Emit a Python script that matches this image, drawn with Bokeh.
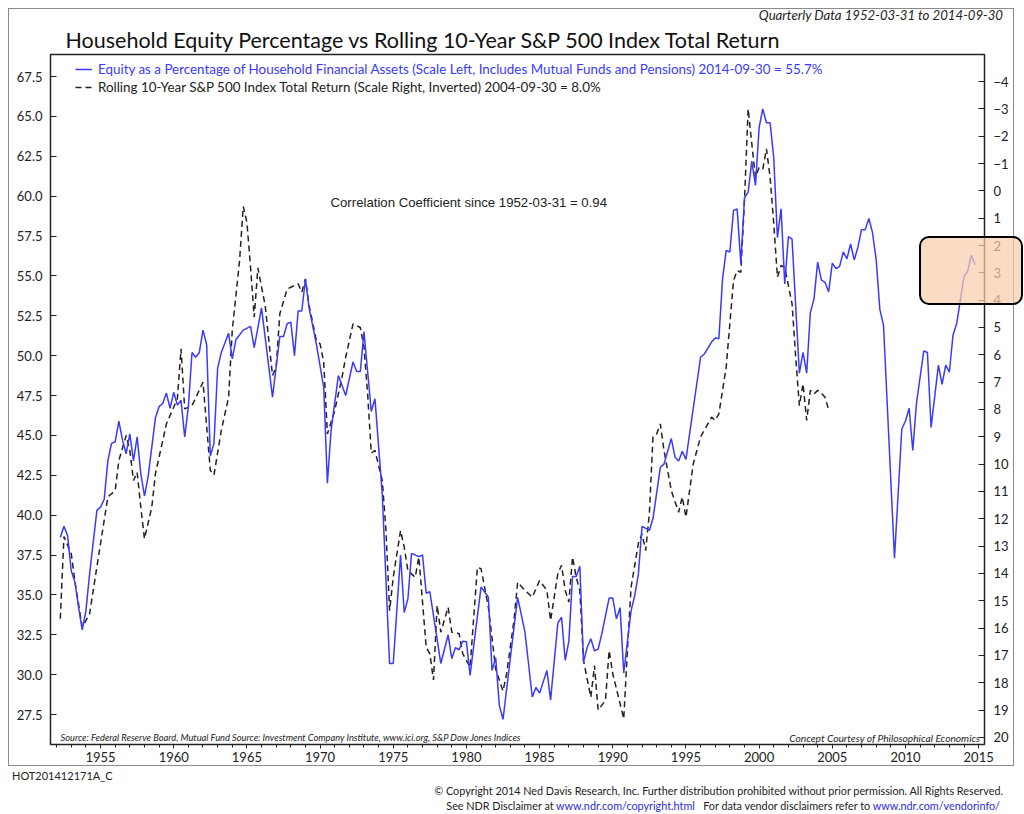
from bokeh.plotting import figure
from bokeh.layouts import column
from bokeh.models import (Range1d, LinearAxis, SingleIntervalTicker, NumeralTickFormatter,
                          Label, Legend, LegendItem, ColumnDataSource, Title, Div)
from bokeh.embed import file_html
from bokeh.resources import INLINE

# ---------------- data ----------------
equity_dates = [
    1952.25, 1952.5, 1952.75, 1953.0, 1953.25, 1953.5, 1953.75, 1954.0, 1954.25, 1954.75,
    1955.0, 1955.25, 1955.5, 1955.75, 1956.0, 1956.25, 1956.5, 1956.75, 1957.0, 1957.25,
    1957.5, 1957.75, 1958.0, 1958.25, 1958.75, 1959.0, 1959.25, 1959.5, 1959.75, 1960.0,
    1960.25, 1960.5, 1960.75, 1961.0, 1961.25, 1961.5, 1961.75, 1962.0, 1962.25, 1962.5,
    1962.75, 1963.0, 1963.25, 1963.75, 1964.0, 1964.25, 1964.75, 1965.25, 1965.5, 1966.0,
    1966.75, 1967.25, 1967.5, 1967.75, 1968.0, 1968.25, 1968.5, 1968.75, 1969.0, 1969.25,
    1969.75, 1970.25, 1970.5, 1970.75, 1971.25, 1971.75, 1972.25, 1972.5, 1972.75, 1973.0,
    1973.5, 1973.75, 1974.25, 1974.75, 1975.0, 1975.5, 1975.75, 1976.0, 1976.25, 1976.75,
    1977.0, 1977.25, 1977.5, 1978.25, 1978.75, 1979.0, 1979.25, 1979.5, 1979.75, 1980.0,
    1980.25, 1981.0, 1981.5, 1981.75, 1982.0, 1982.25, 1982.5, 1983.5, 1984.0, 1984.5,
    1984.75, 1985.0, 1985.5, 1985.75, 1986.25, 1986.5, 1986.75, 1987.0, 1987.25, 1987.5,
    1987.75, 1988.0, 1988.25, 1988.5, 1988.75, 1989.0, 1989.25, 1989.75, 1990.0, 1990.25,
    1990.5, 1990.75, 1991.25, 1991.5, 1991.75, 1992.0, 1992.5, 1992.75, 1993.25, 1993.5,
    1994.0, 1994.25, 1994.5, 1994.75, 1995.0, 1996.0, 1996.25, 1996.75, 1997.0, 1997.25,
    1997.5, 1997.75, 1998.0, 1998.25, 1998.5, 1998.75, 1999.0, 1999.25, 1999.5, 1999.75,
    2000.0, 2000.25, 2000.5, 2000.75, 2001.0, 2001.25, 2001.5, 2001.75, 2002.0, 2002.25,
    2002.75, 2003.0, 2003.25, 2003.5, 2003.75, 2004.0, 2004.25, 2004.5, 2004.75, 2005.0,
    2005.25, 2005.5, 2005.75, 2006.0, 2006.25, 2006.5, 2006.75, 2007.0, 2007.25, 2007.5,
    2007.75, 2008.0, 2008.25, 2008.5, 2009.25, 2009.75, 2010.0, 2010.25, 2010.5, 2010.75,
    2011.25, 2011.5, 2011.75, 2012.25, 2012.5, 2012.75, 2013.0, 2013.25, 2013.5, 2014.0,
    2014.25, 2014.5, 2014.75,
]
equity_pct = [
    38.6, 39.3, 38.7, 36.5, 35.8, 34.2, 32.8, 34.0, 36.3, 40.3,
    40.5, 41.0, 43.4, 44.5, 44.6, 45.9, 44.7, 43.85, 45.1, 43.4,
    44.9, 42.6, 41.2, 42.4, 46.1, 46.8, 47.0, 47.65, 46.7, 47.7,
    46.9, 47.2, 44.9, 46.8, 50.2, 49.9, 50.2, 51.6, 50.7, 43.7,
    44.5, 49.2, 50.2, 51.4, 49.8, 51.0, 51.6, 51.83, 50.5, 53.0,
    47.4, 51.2, 51.2, 52.0, 52.1, 50.0, 52.8, 52.8, 54.8, 53.0,
    50.7, 48.0, 42.0, 45.3, 48.75, 47.5, 49.6, 49.0, 49.0, 51.5,
    46.5, 47.3, 41.3, 30.7, 30.7, 37.5, 33.9, 34.75, 37.6, 37.4,
    37.5, 35.1, 35.2, 30.7, 32.5, 31.0, 31.7, 31.56, 32.1, 32.06,
    29.95, 35.5, 34.85, 30.26, 31.06, 28.06, 27.2, 34.85, 32.66, 28.6,
    29.2, 28.84, 30.26, 28.4, 33.25, 33.6, 30.9, 32.1, 36.15, 36.15,
    36.8, 30.8, 31.7, 32.25, 31.5, 31.6, 32.56, 34.8, 34.8, 33.5,
    34.2, 30.1, 34.0, 34.96, 36.3, 39.3, 39.04, 39.8, 43.0, 43.2,
    44.8, 43.65, 43.4, 44.0, 43.5, 49.9, 50.1, 50.85, 51.1, 51.06,
    54.8, 56.6, 56.5, 59.1, 59.2, 55.76, 59.9, 60.25, 62.2, 60.67,
    64.3, 65.47, 64.6, 64.6, 62.4, 57.4, 59.2, 54.5, 57.47, 57.3,
    48.9, 50.2, 48.9, 52.7, 53.56, 55.86, 54.75, 54.6, 54.0, 55.8,
    55.45, 55.6, 56.5, 56.07, 57.0, 56.0, 56.8, 57.9, 57.9, 58.6,
    57.7, 56.0, 52.9, 51.9, 37.3, 45.4, 45.9, 46.7, 44.05, 47.0,
    50.3, 50.2, 45.5, 49.4, 48.2, 49.4, 48.96, 51.3, 52.0, 54.96,
    55.3, 56.3, 55.7,
]

return_dates = [
    1952.25, 1952.5, 1953.0, 1953.25, 1953.75, 1954.25, 1954.5, 1955.0, 1955.5, 1956.0,
    1956.25, 1956.75, 1957.0, 1957.25, 1957.5, 1957.75, 1958.0, 1958.5, 1958.75, 1959.5,
    1960.25, 1960.5, 1960.75, 1961.25, 1962.0, 1962.5, 1962.75, 1963.25, 1963.75, 1964.0,
    1964.5, 1964.75, 1965.0, 1965.25, 1965.5, 1965.75, 1966.25, 1966.5, 1966.75, 1967.0,
    1967.25, 1967.75, 1968.5, 1968.75, 1969.0, 1969.25, 1969.75, 1970.0, 1970.25, 1970.5,
    1971.0, 1971.5, 1971.75, 1972.25, 1972.75, 1973.0, 1973.25, 1973.5, 1973.75, 1974.25,
    1974.5, 1974.75, 1975.0, 1975.25, 1975.5, 1975.75, 1976.0, 1976.5, 1976.75, 1977.25,
    1977.5, 1977.75, 1978.0, 1978.25, 1978.75, 1979.0, 1979.5, 1979.75, 1980.25, 1980.75,
    1981.0, 1981.5, 1982.0, 1982.5, 1982.75, 1983.25, 1983.5, 1984.0, 1984.5, 1985.0,
    1985.5, 1985.75, 1986.25, 1986.5, 1986.75, 1987.0, 1987.25, 1987.5, 1987.75, 1988.0,
    1988.5, 1988.75, 1989.0, 1989.5, 1989.75, 1990.0, 1990.5, 1990.75, 1991.0, 1991.25,
    1991.75, 1992.0, 1992.25, 1992.5, 1992.75, 1993.0, 1993.25, 1993.5, 1994.0, 1994.5,
    1994.75, 1995.0, 1995.5, 1996.0, 1996.75, 1997.0, 1997.25, 1997.75, 1998.25, 1998.5,
    1998.75, 1999.0, 1999.25, 1999.5, 1999.75, 2000.0, 2000.25, 2000.5, 2000.75, 2001.0,
    2001.25, 2001.5, 2001.75, 2002.25, 2002.5, 2002.75, 2003.0, 2003.25, 2003.5, 2003.75,
    2004.0, 2004.25, 2004.5, 2004.75,
]
return_pct = [
    15.66, 12.65, 13.28, 14.3, 15.97, 15.48, 14.62, 12.9, 11.2, 10.97,
    9.87, 8.95, 9.5, 10.6, 10.3, 11.58, 12.73, 11.58, 10.35, 8.53,
    7.6, 5.78, 7.98, 7.86, 7.0, 10.23, 10.4, 8.77, 7.55, 5.1,
    2.55, 0.57, 1.15, 2.8, 4.62, 2.82, 4.2, 5.48, 6.76, 6.45,
    4.5, 3.59, 3.4, 3.71, 3.22, 4.2, 5.48, 5.6, 6.27, 8.9,
    8.04, 6.82, 6.09, 4.87, 5.0, 5.72, 7.43, 9.6, 9.5, 10.6,
    12.4, 15.36, 14.14, 13.28, 12.43, 13.04, 13.9, 14.14, 13.4, 16.7,
    16.94, 17.9, 15.17, 16.15, 15.24, 16.15, 16.2, 16.94, 17.43, 13.77,
    13.83, 15.24, 17.5, 18.3, 17.67, 15.72, 14.32, 14.62, 14.87, 14.26,
    14.62, 15.72, 14.0, 13.7, 14.62, 15.05, 13.4, 14.14, 14.62, 17.19,
    18.53, 17.37, 19.0, 18.65, 16.82, 17.67, 18.77, 19.32, 16.82, 14.5,
    12.9, 12.55, 13.16, 11.8, 9.0, 8.9, 8.53, 9.5, 10.97, 11.76,
    11.2, 11.94, 9.99, 9.0, 8.28, 8.4, 8.16, 6.45, 3.28, 2.92,
    2.98, 0.35, -3.0, -1.72, -0.5, -0.86, -0.8, -1.54, -0.5, 1.2,
    3.16, 2.73, 2.8, 4.13, 6.09, 7.86, 7.06, 8.4, 7.3, 7.43,
    7.3, 7.4, 7.55, 8.0,
]

left_ticks = [27.5, 30.0, 32.5, 35.0, 37.5, 40.0, 42.5, 45.0, 47.5, 50.0, 52.5, 55.0, 57.5, 60.0, 62.5, 65.0, 67.5]
right_ticks = list(range(-4, 21))

title_text = "Household Equity Percentage vs Rolling 10-Year S&P 500 Index Total Return"
subtitle_text = "Quarterly Data 1952-03-31 to 2014-09-30"
equity_label = ("Equity as a Percentage of Household Financial Assets (Scale Left, Includes Mutual Funds "
                "and Pensions) 2014-09-30 = 55.7%")
return_label = "Rolling 10-Year S&P 500 Index Total Return (Scale Right, Inverted) 2004-09-30 = 8.0%"
corr_text = "Correlation Coefficient since 1952-03-31 = 0.94"
source_text = ("Source:  Federal Reserve Board, Mutual Fund Source: Investment Company Institute, "
               "www.ici.org, S&P Dow Jones Indices")
concept_text = "Concept Courtesy of Philosophical Economics"
code_text = "HOT201412171A_C"
copyright_text = ("\u00a9 Copyright 2014 Ned Davis Research, Inc. Further distribution prohibited without "
                  "prior permission. All Rights Reserved.")
disclaimer_parts = ["See NDR Disclaimer at", "www.ndr.com/copyright.html",
                    "For data vendor disclaimers refer to", "www.ndr.com/vendorinfo/"]

# ---------------- styles ----------------
BLUE = "#3a3aff"
LINK = "#2b2bd9"
DARK = "#222222"
FONT = "Lato"

p = figure(width=1006, height=758, x_range=Range1d(1951.58, 2015.4), y_range=Range1d(25.62, 68.88),
           output_backend="svg", toolbar_location=None,
           min_border_left=41, min_border_right=31, min_border_top=45, min_border_bottom=23,
           background_fill_color="white", border_fill_color="white",
           styles={"margin-left": "8px", "margin-top": "8px", "border": "1px solid #8c8c8c"})
p.extra_y_ranges = {"right": Range1d(start=20.26, end=-4.99)}
p.grid.visible = False
p.outline_line_color = DARK
p.outline_line_width = 1.5

# main title (above the frame)
p.add_layout(Title(text=title_text, align="left", offset=15, standoff=3, text_font=FONT,
                   text_font_size="21.5px", text_font_style="normal", text_color="#111111"), "above")

# left axis
p.yaxis.ticker = left_ticks
p.yaxis.formatter = NumeralTickFormatter(format="0.0")
p.yaxis.major_tick_in = 6
p.yaxis.major_tick_out = 0
p.yaxis.minor_tick_line_color = None
p.yaxis.axis_line_color = None
p.yaxis.major_label_text_font = FONT
p.yaxis.major_label_text_font_size = "13px"
p.yaxis.major_label_text_color = DARK
p.yaxis.major_label_standoff = 8
p.yaxis.major_tick_line_color = DARK

# bottom axis
p.xaxis.ticker = SingleIntervalTicker(interval=5, num_minor_ticks=5)
p.xaxis.major_tick_in = 0
p.xaxis.major_tick_out = 4
p.xaxis.minor_tick_in = 0
p.xaxis.minor_tick_out = 3
p.xaxis.axis_line_color = None
p.xaxis.major_tick_line_color = DARK
p.xaxis.minor_tick_line_color = DARK
p.xaxis.major_label_text_font = FONT
p.xaxis.major_label_text_font_size = "13px"
p.xaxis.major_label_text_color = DARK
p.xaxis.major_label_standoff = 3

# right axis
raxis = LinearAxis(y_range_name="right", ticker=right_ticks)
raxis.major_tick_in = 6
raxis.major_tick_out = 0
raxis.minor_tick_line_color = None
raxis.axis_line_color = None
raxis.major_tick_line_color = DARK
raxis.major_label_text_font = FONT
raxis.major_label_text_font_size = "13px"
raxis.major_label_text_color = DARK
raxis.major_label_standoff = 9
p.add_layout(raxis, "right")

# series
eq_src = ColumnDataSource(data=dict(x=equity_dates, y=equity_pct))
rt_src = ColumnDataSource(data=dict(x=return_dates, y=return_pct))
r_ret = p.line("x", "y", source=rt_src, y_range_name="right", line_color=DARK,
               line_width=1.5, line_dash="6 4")
r_eq = p.line("x", "y", source=eq_src, line_color=BLUE, line_width=1.5)

# legends
common = dict(orientation="vertical", padding=0, margin=0, border_line_color=None,
              background_fill_alpha=0, glyph_width=17, glyph_height=14, label_height=14,
              label_standoff=6, label_text_font=FONT, label_text_font_size="13.4px", spacing=0)
leg1 = Legend(items=[LegendItem(label=equity_label, renderers=[r_eq])], location=(25, 667),
              label_text_color=BLUE, **common)
leg2 = Legend(items=[LegendItem(label=return_label, renderers=[r_ret])], location=(25, 649),
              label_text_color=DARK, **common)
p.add_layout(leg1)
p.add_layout(leg2)

def add_text(fig, txt, x, y, size, color=DARK, align="left", style="normal", font=FONT):
    fig.add_layout(Label(x=x, y=y, x_units="screen", y_units="screen", text=txt,
                         text_font=font, text_font_size=size, text_color=color,
                         text_align=align, text_baseline="middle", text_font_style=style))

add_text(p, corr_text, 280, 542, "13.2px", font="Liberation Sans")
add_text(p, source_text, 10, 7, "9.3px", style="italic")
add_text(p, concept_text, 930, 7, "10.2px", style="italic", align="right")

# texts placed outside the plot frame
def page_div(html, left, top, width, size, align="left", style="normal"):
    return Div(text=html, width=width, height=14, margin=0,
               styles={"position": "absolute", "left": f"{left}px", "top": f"{top}px",
                       "font-family": FONT, "font-size": size, "color": DARK, "font-style": style,
                       "white-space": "nowrap", "line-height": "14px", "text-align": align,
                       "z-index": "5"})

link = lambda s: f'<span style="color:{LINK}">{s}</span>'
line2 = (f"{disclaimer_parts[0]} {link(disclaimer_parts[1])}&nbsp;&nbsp;&nbsp;"
         f"{disclaimer_parts[2]} {link(disclaimer_parts[3])}")
d_sub = page_div(subtitle_text, 603, 8, 400, "13.2px", align="right", style="italic")
d_code = page_div(code_text, 12, 769, 120, "11px")
d_copy = page_div(copyright_text, 353, 784, 650, "10.8px", align="right")
d_disc = page_div(line2, 350, 799, 650, "10.8px", align="right")

# highlight box (crosses the right-hand scale)
hl = Div(text="", width=104, height=69, margin=0,
         styles={"position": "absolute", "left": "919px", "top": "236px",
                 "background-color": "rgba(248, 205, 172, 0.72)", "border": "2.5px solid black",
                 "border-radius": "10px", "box-sizing": "border-box", "z-index": "10"})

layout = column(p, d_sub, d_code, d_copy, d_disc, hl, spacing=0)
open("out.html", "w").write(file_html(layout, INLINE))
